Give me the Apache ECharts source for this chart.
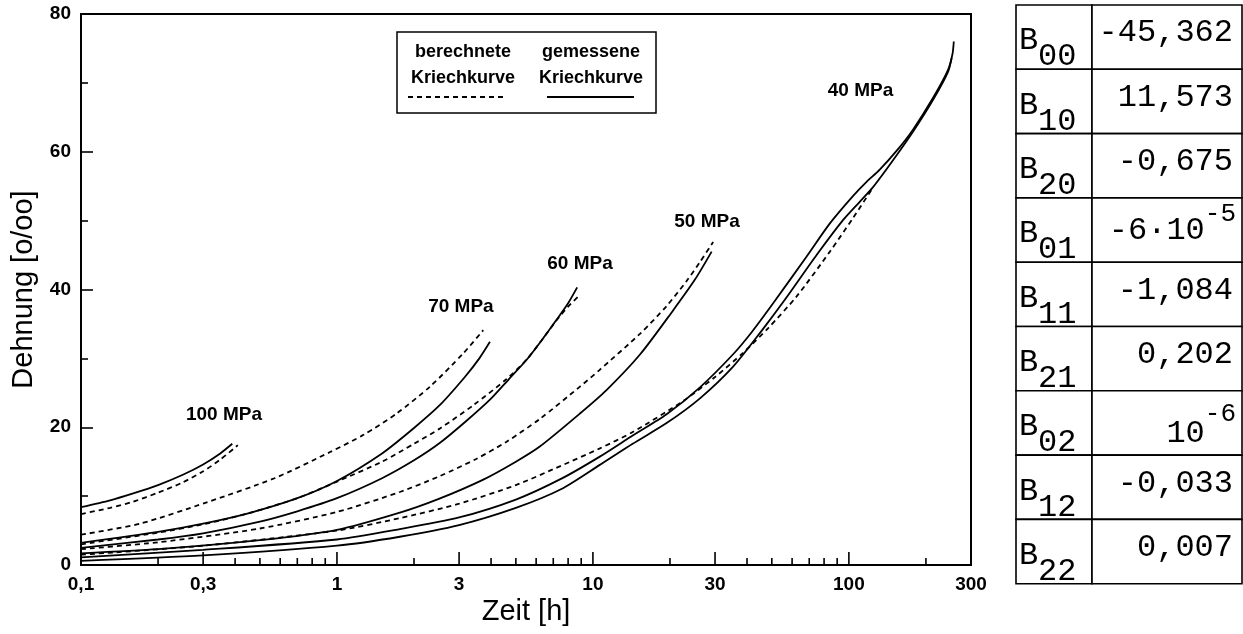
<!DOCTYPE html>
<html>
<head>
<meta charset="utf-8">
<script src="https://cdn.jsdelivr.net/npm/echarts@6/dist/echarts.min.js"></script>
<style>
html,body{margin:0;padding:0;background:#fff;}
#chart{width:1243px;height:634px;}
</style>
</head>
<body>
<div id="chart"></div>
<script>
// ---------- data (time in h, strain in o/oo) ----------
const calc100 = [[0.1,7.4],[0.13,8.3],[0.16,9.2],[0.2,10.5],[0.25,12.0],[0.3,13.6],[0.35,15.3],[0.41,17.4]];
const meas100 = [[0.1,8.4],[0.13,9.4],[0.16,10.4],[0.2,11.6],[0.25,13.1],[0.3,14.6],[0.35,16.2],[0.39,17.6]];

const calc70 = [[0.1,4.4],[0.17,6.0],[0.31,9.1],[0.57,12.6],[0.94,16.4],[1.27,18.9],[1.71,22.0],[2.31,25.9],[3.11,30.7],[3.73,34.1]];
const meas70 = [[0.1,3.2],[0.2,4.8],[0.3,6.0],[0.45,7.5],[0.7,9.7],[1.0,12.2],[1.5,16.2],[2.0,19.9],[2.52,23.2],[3.16,27.3],[3.6,30.0],[3.96,32.4]];

const calc60 = [[0.1,3.0],[0.2,4.7],[0.3,5.9],[0.45,7.5],[0.7,9.7],[1.0,12.1],[1.5,15.0],[2.0,17.6],[2.52,19.8],[3.41,23.2],[4.6,27.0],[5.5,29.8],[6.3,32.6],[7.2,35.5],[8.0,37.5],[8.77,39.0]];
const meas60 = [[0.1,2.5],[0.2,3.7],[0.3,4.6],[0.5,6.3],[0.7,7.8],[1.0,9.7],[1.5,12.6],[2.0,15.2],[2.52,17.7],[3.2,20.9],[3.96,24.0],[4.7,27.0],[5.51,29.8],[6.3,32.6],[7.21,35.6],[8.0,38.0],[8.68,40.3]];

const calc50 = [[0.1,2.3],[0.2,3.3],[0.5,5.3],[1.0,7.7],[1.76,10.6],[2.52,12.9],[3.5,15.4],[4.6,17.9],[6.2,21.2],[8.9,25.9],[10.6,28.3],[15.3,33.6],[19.4,37.6],[23.2,41.2],[26.2,44.0],[29.5,46.9]];
const meas50 = [[0.1,1.7],[0.2,2.3],[0.5,3.6],[1.0,5.1],[1.76,7.6],[2.5,9.6],[3.73,12.4],[5.0,15.0],[6.2,17.2],[8.9,22.0],[11.3,25.4],[15.3,30.6],[20.6,37.0],[25,41.4],[29.1,45.5]];

const calc40 = [[0.1,1.5],[0.3,2.8],[1.0,5.0],[1.76,6.8],[3,8.9],[5,11.6],[7.5,14.4],[10.6,16.9],[14.3,19.3],[22.5,23.8],[30,27.3],[38.6,30.8],[48.4,34.4],[62.5,39.0],[84.3,45.5],[103.9,50.4],[123.7,54.7]];
const meas40a = [[0.1,1.1],[0.3,2.2],[1.0,3.7],[1.76,5.2],[3,6.9],[5,9.5],[7.5,12.5],[10.6,15.7],[14.3,18.8],[19.4,21.9],[26.2,25.8],[35.3,30.6],[41.7,33.8],[50.6,38.0],[68.4,44.8],[84.3,49.6],[103.9,53.6],[117,55.6],[132,57.4],[155,60.3],[178,63.2],[213,67.8],[244,71.9],[254,74.2],[257,76.0]];
const meas40b = [[0.1,0.6],[0.3,1.4],[1.0,2.8],[1.76,4.1],[3,5.8],[5,8.3],[7.5,11.0],[10.6,14.5],[14.3,17.6],[19.4,20.6],[26.2,24.2],[35.3,28.8],[45.6,34.0],[56.2,38.5],[74.8,45.0],[95,50.1],[110,52.7],[124.5,54.9],[149,58.8],[178,62.9],[213,67.5],[244,71.6],[252,73.6]];

const stressLabels = ['100 MPa','70 MPa','60 MPa','50 MPa','40 MPa'];
const stressLabelAt = [[0.362,21.8],[3.05,37.5],[8.9,43.8],[27.9,49.8],[111,68.8]];

const xLabelValues = [0.1,0.3,1,3,10,30,100,300];
const xLabelTexts  = ['0,1','0,3','1','3','10','30','100','300'];
const xMajorTicks  = [0.3,1,3,10,30,100];
const xMinorTicks  = [0.2,0.4,0.5,0.6,0.7,0.8,0.9,2,4,5,6,7,8,9,20,40,50,60,70,80,90,200];

const coefNames  = ['00','10','20','01','11','21','02','12','22'];
const coefValues = ['-45,362','11,573','-0,675','-6\u00B710^-5','-1,084','0,202','10^-6','-0,033','0,007'];

const legendLeft  = ['berechnete','Kriechkurve'];
const legendRight = ['gemessene','Kriechkurve'];

// ---------- styling ----------
const SANS = '"Liberation Sans", Arial, Helvetica, sans-serif';
const MONO = '"Liberation Mono", "Courier New", monospace';
const DASH = [5,4];

function curve(name, data, dashed){
  return {type:'line', name:name, data:data, showSymbol:false, symbol:'none',
    smooth:0.25, silent:true, z:3,
    lineStyle:{color:'#000', width:1.8, type: dashed ? DASH : 'solid'}};
}

function tickSeries(values, len){
  return {type:'custom', silent:true, clip:false, z:6,
    data: values.map(function(t){return [t,0];}),
    renderItem:function(params, api){
      const c = api.coord([api.value(0), 0]);
      return {type:'line', shape:{x1:c[0], y1:c[1], x2:c[0], y2:c[1]-len},
              style:{stroke:'#000', lineWidth:1.6}};
    }};
}

const chart = echarts.init(document.getElementById('chart'), null, {renderer:'canvas'});

// ---------- table graphics ----------
const tbl = {left:1016, mid:1092, right:1242, top:5, rowH:64.3};
const tableEls = [];
coefNames.forEach(function(n, i){
  const y0 = tbl.top + i*tbl.rowH;
  tableEls.push({type:'rect', shape:{x:tbl.left, y:y0, width:tbl.mid-tbl.left, height:tbl.rowH},
    style:{fill:'#fff', stroke:'#000', lineWidth:1.6}});
  tableEls.push({type:'rect', shape:{x:tbl.mid, y:y0, width:tbl.right-tbl.mid, height:tbl.rowH},
    style:{fill:'#fff', stroke:'#000', lineWidth:1.6}});
  tableEls.push({type:'text', x:tbl.left+3, y:y0+36, style:{text:'B', font:'32px '+MONO, fill:'#000', align:'left', verticalAlign:'middle'}});
  tableEls.push({type:'text', x:tbl.left+22, y:y0+52, style:{text:n, font:'32px '+MONO, fill:'#000', align:'left', verticalAlign:'middle'}});
  const v = coefValues[i];
  if (v.indexOf('^') >= 0){
    const parts = v.split('^');
    const supW = parts[1].length * 15.6;
    const isPlain = parts[0] === '10';
    tableEls.push({type:'text', x:tbl.right-6, y:y0+(isPlain?23:16), style:{text:parts[1], font:'26px '+MONO, fill:'#000', align:'right', verticalAlign:'middle'}});
    tableEls.push({type:'text', x:tbl.right-6-supW, y:y0+(isPlain?43:33), style:{text:parts[0], font:'32px '+MONO, fill:'#000', align:'right', verticalAlign:'middle'}});
  } else {
    tableEls.push({type:'text', x:tbl.right-9, y:y0+28, style:{text:v, font:'32px '+MONO, fill:'#000', align:'right', verticalAlign:'middle'}});
  }
});

// ---------- legend graphics ----------
const legendEls = [
  {type:'rect', shape:{x:397, y:32, width:259, height:81}, style:{fill:'#fff', stroke:'#000', lineWidth:1.5}, z:10},
  {type:'text', x:463, y:52, style:{text:legendLeft[0], font:'bold 18px '+SANS, fill:'#000', align:'center', verticalAlign:'middle'}, z:11},
  {type:'text', x:463, y:78, style:{text:legendLeft[1], font:'bold 18px '+SANS, fill:'#000', align:'center', verticalAlign:'middle'}, z:11},
  {type:'text', x:591, y:52, style:{text:legendRight[0], font:'bold 18px '+SANS, fill:'#000', align:'center', verticalAlign:'middle'}, z:11},
  {type:'text', x:591, y:78, style:{text:legendRight[1], font:'bold 18px '+SANS, fill:'#000', align:'center', verticalAlign:'middle'}, z:11},
  {type:'line', shape:{x1:408, y1:97, x2:505, y2:97}, style:{stroke:'#000', lineWidth:1.8, lineDash:DASH}, z:11},
  {type:'line', shape:{x1:547, y1:97, x2:634, y2:97}, style:{stroke:'#000', lineWidth:1.8}, z:11}
];

const option = {
  animation:false,
  backgroundColor:'#fff',
  grid:{left:81, top:14, width:890, height:551, show:true, borderColor:'#000', borderWidth:2, backgroundColor:'transparent'},
  xAxis:{type:'log', logBase:10, min:0.1, max:300,
    axisLine:{show:true, lineStyle:{color:'#000', width:2}},
    axisTick:{show:false}, minorTick:{show:false}, axisLabel:{show:false},
    splitLine:{show:false}, minorSplitLine:{show:false},
    name:'Zeit [h]', nameLocation:'middle', nameGap:32,
    nameTextStyle:{color:'#000', fontFamily:SANS, fontSize:29}},
  yAxis:{type:'value', min:0, max:80, interval:20,
    axisLine:{show:true, lineStyle:{color:'#000', width:2}},
    axisTick:{show:true, inside:true, length:12, lineStyle:{color:'#000', width:1.6}},
    minorTick:{show:true, splitNumber:2, length:7, lineStyle:{color:'#000', width:1.6}},
    splitLine:{show:false}, minorSplitLine:{show:false},
    axisLabel:{color:'#000', fontFamily:SANS, fontWeight:'bold', fontSize:19, margin:10},
    name:'Dehnung [o/oo]', nameLocation:'middle', nameGap:42,
    nameTextStyle:{color:'#000', fontFamily:SANS, fontSize:29}},
  graphic:{elements: legendEls.concat(tableEls)},
  series:[
    curve('berechnet 100 MPa', calc100, true),
    curve('gemessen 100 MPa', meas100, false),
    curve('berechnet 70 MPa', calc70, true),
    curve('gemessen 70 MPa', meas70, false),
    curve('berechnet 60 MPa', calc60, true),
    curve('gemessen 60 MPa', meas60, false),
    curve('berechnet 50 MPa', calc50, true),
    curve('gemessen 50 MPa', meas50, false),
    curve('berechnet 40 MPa', calc40, true),
    curve('gemessen 40 MPa (1)', meas40a, false),
    curve('gemessen 40 MPa (2)', meas40b, false),
    tickSeries(xMinorTicks, 7),
    tickSeries(xMajorTicks, 13),
    {type:'custom', silent:true, clip:false, z:6,
      data: xLabelValues.map(function(t){return [t,0];}),
      renderItem:function(params, api){
        const c = api.coord([api.value(0), 0]);
        return {type:'text', x:c[0], y:c[1]+20,
          style:{text:xLabelTexts[params.dataIndex], font:'bold 19px '+SANS, fill:'#000', align:'center', verticalAlign:'middle'}};
      }},
    {type:'custom', silent:true, clip:false, z:6,
      data: stressLabelAt,
      renderItem:function(params, api){
        const c = api.coord([api.value(0), api.value(1)]);
        return {type:'text', x:c[0], y:c[1],
          style:{text:stressLabels[params.dataIndex], font:'bold 19px '+SANS, fill:'#000', align:'center', verticalAlign:'middle'}};
      }}
  ]
};
chart.setOption(option);
</script>
</body>
</html>
